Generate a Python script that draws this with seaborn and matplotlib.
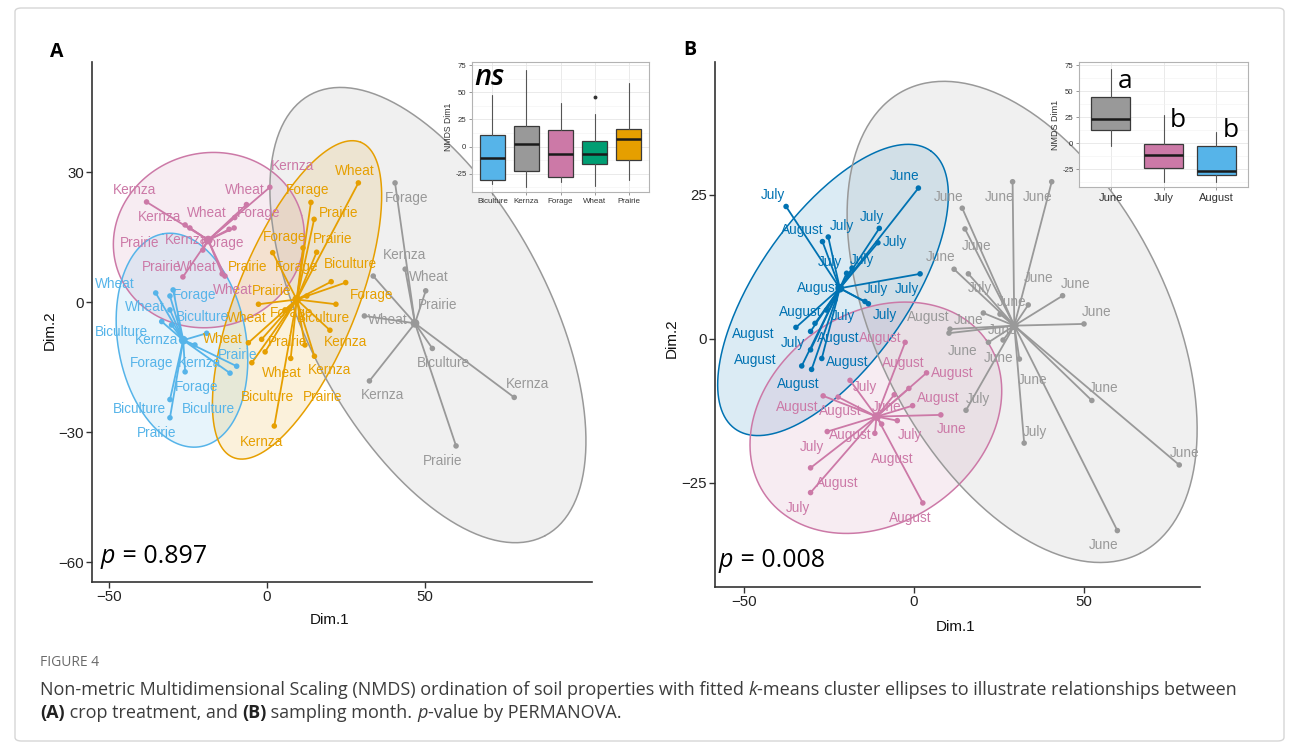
import numpy as np
import pandas as pd
import matplotlib
matplotlib.use("Agg")
import matplotlib.pyplot as plt
from matplotlib.collections import LineCollection
from matplotlib.patches import FancyBboxPatch
import seaborn as sns

# ---------------------------------------------------------------- data
# (A) NMDS site scores, k-means cluster (0-3) and crop treatment
a_dim1 = [-38.1, -25.9, 0.9, -6.5, -10.2, -12.0, -10.4, -24.4, -26.6, -20.3, -14.2, -13.3,
          -35.2, -30.7, -33.3, -30.2, -30.7, -29.7, -22.8, -19.1, -9.6, -11.7, -30.7, -25.9, -30.7,
          28.9, 13.9, 14.9, 15.7, 1.8, 11.4, -2.7, 20.3, 24.9, 21.8, 12.6, 5.7, -1.7, -5.9, -0.6,
          19.9, 7.5, 15.0, -4.8, 12.0, 2.3,
          40.5, 33.6, 43.7, 50.2, 30.8, 52.3, 32.4, 78.2, 59.8]
a_dim2 = [23.1, 17.8, 26.5, 22.5, 19.5, 16.8, 17.1, 17.1, 5.8, 12.0, 6.5, 6.0,
          2.1, -1.8, -4.5, -5.3, 1.4, 2.8, -9.9, -7.2, -14.8, -16.4, -22.5, -16.1, -26.7,
          27.5, 23.0, 19.1, 11.5, 11.4, 12.5, -0.5, 4.7, 4.5, -0.5, 1.4, -1.8, -8.6, -9.4, -11.5,
          -6.5, -13.0, -12.5, -14.0, -9.9, -28.6,
          27.5, 6.0, 7.6, 2.6, -3.2, -10.7, -18.2, -22.0, -33.2]
a_cluster = [0, 0, 0, 0, 0, 0, 0, 0, 0, 0, 0, 0,
             1, 1, 1, 1, 1, 1, 1, 1, 1, 1, 1, 1, 1,
             2, 2, 2, 2, 2, 2, 2, 2, 2, 2, 2, 2, 2, 2, 2, 2, 2, 2, 2, 2, 2,
             3, 3, 3, 3, 3, 3, 3, 3, 3]
a_crop = ["Kernza", "Kernza", "Kernza", "Wheat", "Forage", "Wheat", "Forage", "Kernza", "Prairie",
          "Prairie", "Wheat", "Wheat",
          "Wheat", "Wheat", "Biculture", "Kernza", "Forage", "Biculture", "Forage", "Kernza", "Prairie",
          "Forage", "Biculture", "Biculture", "Prairie",
          "Wheat", "Forage", "Prairie", "Prairie", "Forage", "Forage", "Prairie", "Biculture", "Forage",
          "Biculture", "Prairie", "Forage", "Wheat", "Wheat", "Prairie", "Kernza", "Wheat", "Kernza",
          "Biculture", "Prairie", "Kernza",
          "Forage", "Kernza", "Wheat", "Prairie", "Wheat", "Biculture", "Kernza", "Kernza", "Prairie"]
# repelled label anchors (data units)
a_lab_x = [-41.8, -33.9, 8.2, -7.0, -2.8, -19.0, -13.9, -25.3, -40.2, -33.2, -22.2, -10.8,
           -48.1, -38.6, -45.9, -34.8, -22.8, -20.3, -36.4, -21.2, -9.2, -22.2, -40.2, -18.4, -34.8,
           27.8, 13.0, 22.5, 20.9, 5.7, 9.5, -6.0, 26.3, 33.2, 17.7, 1.6, 7.9, -6.3, -13.9, 6.6,
           24.7, 4.7, 19.9, 0.0, 17.7, -1.6,
           44.3, 43.4, 51.3, 54.1, 38.3, 55.7, 36.4, 82.3, 55.7]
a_lab_y = [25.8, 19.6, 31.4, 25.8, 20.5, 20.5, 13.6, 14.3, 13.6, 8.1, 8.1, 2.8,
           4.2, -1.2, -6.9, -8.8, 1.6, -3.5, -14.1, -14.1, -12.2, -19.6, -24.7, -24.7, -30.2,
           30.2, 25.8, 20.5, 14.5, 15.0, 8.1, 8.1, 8.8, 1.6, -3.7, 2.5, -2.5, -3.7, -8.5, -9.2,
           -9.2, -16.4, -15.7, -21.9, -21.9, -32.3,
           24.0, 10.8, 5.8, -0.7, -4.2, -14.1, -21.5, -18.9, -36.7]
a_centre_x = [-18.6, -26.5, 9.4, 46.8]
a_centre_y = [14.3, -8.8, 0.6, -4.9]
# cluster ellipses: centre and two conjugate semi-diameters (data units)
a_ell_cx = [-18.4, -26.9, 9.5, 50.9]
a_ell_cy = [14.3, -8.8, 0.5, -3.0]
a_ell_u = [(29.35, 5.74), (-5.95, 24.55), (20.17, 36.37), (37.1, -50.9)]
a_ell_v = [(-7.13, 19.4), (-19.95, -2.57), (-17.6, 5.19), (33.5, 13.0)]
a_colors = {0: "#CC79A7", 1: "#56B4E9", 2: "#E69F00", 3: "#999999"}

# (B) NMDS site scores, k-means cluster (0-2) and sampling month
b_dim1 = [-37.6, 1.3, -10.2, -10.6, -26.9, -25.2, -19.8, -18.2, 1.8, -14.4, -23.2, -13.4, -25.7,
          -29.1, -34.7, -30.4, -30.4, -27.1, -33.0, -30.1,
          -2.6, -1.5, 3.7, -0.4, 7.9, -5.8, -18.8, -26.7, -22.3, -4.9, -9.5, -11.5, -25.5, -30.4,
          -30.4, 2.6,
          29.0, 40.5, 14.2, 15.0, 11.8, 16.0, 33.6, 43.7, 25.3, 20.4, 50.0, 10.3, 10.6, 21.9, 26.2,
          31.0, 15.3, 52.3, 32.4, 78.0, 59.8]
b_dim2 = [23.0, 26.2, 19.2, 16.7, 16.9, 17.7, 11.4, 12.3, 11.3, 6.5, 6.8, 6.1, 5.0,
          2.7, 2.0, 1.3, -1.9, -3.4, -4.7, -5.3,
          -0.6, -8.6, -5.9, -11.6, -13.2, -9.7, -7.2, -9.9, -10.1, -14.2, -14.8, -16.4, -16.1, -22.4,
          -26.7, -28.5,
          27.3, 27.3, 22.7, 19.1, 12.1, 11.3, 5.9, 7.5, 4.3, 4.5, 2.6, 1.0, 1.7, -0.6, -0.2,
          -3.5, -12.4, -10.7, -18.1, -21.9, -33.3]
b_cluster = [0, 0, 0, 0, 0, 0, 0, 0, 0, 0, 0, 0, 0, 0, 0, 0, 0, 0, 0, 0,
             1, 1, 1, 1, 1, 1, 1, 1, 1, 1, 1, 1, 1, 1, 1, 1,
             2, 2, 2, 2, 2, 2, 2, 2, 2, 2, 2, 2, 2, 2, 2, 2, 2, 2, 2, 2, 2]
b_month = ["July", "June", "July", "July", "August", "July", "July", "July", "July", "July", "July",
           "July", "August", "August", "August", "July", "August", "August", "August", "August",
           "August", "August", "August", "August", "June", "June", "July", "August", "August", "July",
           "August", "August", "July", "August", "July", "August",
           "June", "June", "June", "June", "June", "July", "June", "June", "June", "June", "June",
           "August", "June", "June", "June", "June", "July", "June", "July", "June", "June"]
b_lab_x = [-41.5, -2.6, -12.4, -5.6, -32.9, -21.2, -24.7, -15.3, -2.1, -11.2, -20.9, -8.5, -28.2,
           -33.5, -47.4, -35.6, -22.4, -19.7, -46.8, -34.1,
           -10.0, -3.2, 11.2, 7.1, 11.2, -7.9, -14.4, -34.4, -21.8, -1.2, -6.5, -18.8, -30.0, -22.6,
           -34.1, -1.2,
           25.3, 36.5, 10.3, 18.5, 7.9, 19.4, 36.8, 47.4, 28.8, 16.2, 53.8, 4.1, 26.2, 14.4, 25.0,
           35.0, 18.8, 55.9, 35.6, 79.7, 55.9]
b_lab_y = [25.0, 28.3, 21.2, 16.8, 18.9, 19.6, 13.4, 13.7, 8.7, 8.7, 4.0, 4.2, 8.9,
           4.7, 0.9, -0.7, 0.2, -4.0, -3.6, -7.8,
           0.2, -4.2, -5.9, -10.2, -15.6, -11.8, -8.3, -11.8, -12.5, -16.7, -20.8, -16.7, -18.8, -25.0,
           -29.3, -31.1,
           24.7, 24.7, 24.7, 16.1, 14.2, 8.9, 10.6, 9.5, 6.4, 3.3, 4.7, 3.8, 1.6, -2.1, -3.3,
           -7.1, -10.4, -8.5, -16.1, -19.8, -35.8]
b_centre_x = [-21.8, -11.0, 29.5]
b_centre_y = [8.8, -13.5, 2.3]
b_ell_cx = [-23.8, -11.2, 31.8]
b_ell_cy = [8.5, -13.7, 2.95]
b_ell_u = [(28.7, 24.17), (32.5, 13.45), (34.7, -40.2)]
b_ell_v = [(-18.07, 7.47), (-17.7, 14.93), (38.0, 11.43)]
b_colors = {0: "#0072B2", 1: "#CC79A7", 2: "#999999"}

# inset box plots: NMDS Dim1 by crop (A) and by month (B)
ins_a_groups = ["Biculture", "Kernza", "Forage", "Wheat", "Prairie"]
ins_a_q1 = [-31, -23, -28, -16, -12]
ins_a_med = [-11, 2, -7, -7, 7]
ins_a_q3 = [11, 19, 15, 5, 16]
ins_a_lo = [-35, -37, -33, -36, -31]
ins_a_hi = [48, 71, 40, 30, 59]
ins_a_out = [[], [], [], [46], []]
ins_a_colors = ["#56B4E9", "#999999", "#CC79A7", "#009E73", "#E69F00"]

ins_b_groups = ["June", "July", "August"]
ins_b_q1 = [13, -24, -30]
ins_b_med = [23, -11, -27]
ins_b_q3 = [44, -1, -3]
ins_b_lo = [-3, -37, -37]
ins_b_hi = [71, 27, 11]
ins_b_out = [[], [], []]
ins_b_colors = ["#999999", "#CC79A7", "#56B4E9"]
ins_b_letters = ["a", "b", "b"]
ins_b_letter_y = [58.8, 22.3, 11.8]

ins_yticks = [-25, 0, 25, 50, 75]
ins_yticklabels = ["-25", "0", "25", "50", "75"]

p_values = ["0.897", "0.008"]

# ---------------------------------------------------------------- style
sns.set_theme(style="ticks")
LABEL_FONT = ["Liberation Sans", "DejaVu Sans"]
SANS = ["Open Sans", "DejaVu Sans"]
plt.rcParams["font.family"] = LABEL_FONT

W, H = 1292, 749
fig = plt.figure(figsize=(W / 100, H / 100), dpi=100)
fig.patch.set_facecolor("white")


def rect(x0, y0, x1, y1):
    return [x0 / W, 1 - y1 / H, (x1 - x0) / W, (y1 - y0) / H]


def draw_ordination(ax, dim1, dim2, cluster, labels, lab_x, lab_y,
                    cen_x, cen_y, ecx, ecy, eu, ev, palette):
    df = pd.DataFrame({"Dim.1": dim1, "Dim.2": dim2, "cluster": cluster,
                       "label": labels, "lx": lab_x, "ly": lab_y})
    t = np.linspace(0, 2 * np.pi, 300)
    for k in range(len(ecx)):
        col = palette[k]
        ex = ecx[k] + eu[k][0] * np.cos(t) + ev[k][0] * np.sin(t)
        ey = ecy[k] + eu[k][1] * np.cos(t) + ev[k][1] * np.sin(t)
        ax.fill(ex, ey, color=col, alpha=0.14, lw=0, zorder=1)
        ax.plot(ex, ey, color=col, lw=1.1, zorder=2)
    segs = [[(cen_x[c], cen_y[c]), (x, y)] for x, y, c in zip(dim1, dim2, cluster)]
    ax.add_collection(LineCollection(segs, colors=[palette[c] for c in cluster],
                                     linewidths=1.3, zorder=3))
    sns.scatterplot(data=df, x="Dim.1", y="Dim.2", hue="cluster", palette=palette,
                    s=16, linewidth=0, legend=False, ax=ax, zorder=4)
    cen = pd.DataFrame({"x": cen_x, "y": cen_y, "cluster": list(range(len(cen_x)))})
    sns.scatterplot(data=cen, x="x", y="y", hue="cluster", palette=palette,
                    s=40, linewidth=0, legend=False, ax=ax, zorder=4)
    for _, r in df.iterrows():
        ax.text(r.lx, r.ly, r.label, color=palette[r.cluster], fontsize=9.8,
                ha="center", va="center", zorder=5, clip_on=False)


def style_main(ax, xlim, ylim, xticks, yticks, xlab_pos, ylab_pos):
    ax.set_xlim(*xlim)
    ax.set_ylim(*ylim)
    ax.set_xticks(xticks)
    ax.set_yticks(yticks)
    sns.despine(ax=ax)
    for s in ("left", "bottom"):
        ax.spines[s].set_color("#333333")
        ax.spines[s].set_linewidth(1.2)
    ax.tick_params(direction="out", length=4, width=1, color="#333333",
                   labelsize=10.8, labelcolor="#222222", pad=2)
    ax.set_xlabel("Dim.1", fontsize=11, color="#111111")
    ax.set_ylabel("Dim.2", fontsize=11, color="#111111")
    ax.xaxis.label.set_va("center")
    ax.yaxis.label.set_va("center")
    ax.xaxis.set_label_coords(*xlab_pos)
    ax.yaxis.set_label_coords(*ylab_pos)
    ax.set_facecolor("white")


def draw_inset(ax, groups, q1, med, q3, lo, hi, out, colors, xfs, yfs):
    stats = [dict(label=g, q1=a, med=m, q3=b, whislo=l, whishi=h, fliers=f)
             for g, a, m, b, l, h, f in zip(groups, q1, med, q3, lo, hi, out)]
    ax.set_axisbelow(True)
    bp = ax.bxp(stats, positions=list(range(len(groups))), widths=0.75,
                patch_artist=True, showcaps=False,
                boxprops=dict(edgecolor="#3a3a3a", linewidth=0.9),
                medianprops=dict(color="#1a1a1a", linewidth=1.8),
                whiskerprops=dict(color="#555555", linewidth=0.8),
                flierprops=dict(marker="o", markersize=2.8, markerfacecolor="#333333",
                                markeredgecolor="none"))
    for patch, c in zip(bp["boxes"], colors):
        patch.set_facecolor(c)
    ax.set_xlim(-0.6, len(groups) - 0.4)
    ax.set_ylim(-42, 78)
    ax.set_yticks(ins_yticks)
    ax.set_yticklabels(ins_yticklabels)
    ax.set_yticks([-37.5, -12.5, 12.5, 37.5, 62.5], minor=True)
    ax.set_xticks(list(range(len(groups))))
    ax.set_xticklabels(groups)
    ax.grid(True, which="major", color="#e6e6e6", lw=0.6)
    ax.grid(True, which="minor", axis="y", color="#f2f2f2", lw=0.4)
    ax.tick_params(which="minor", length=0)
    ax.tick_params(which="major", length=2.5, width=0.6, color="#888888", pad=1.5)
    ax.tick_params(axis="x", labelsize=xfs, labelcolor="#333333")
    ax.tick_params(axis="y", labelsize=yfs, labelcolor="#333333")
    for s in ax.spines.values():
        s.set_visible(True)
        s.set_color("#b3b3b3")
        s.set_linewidth(0.8)
    ax.set_facecolor("white")


# ---------------------------------------------------------------- panels
axA = fig.add_axes(rect(92.5, 62, 592, 582))
draw_ordination(axA, a_dim1, a_dim2, a_cluster, a_crop, a_lab_x, a_lab_y,
                a_centre_x, a_centre_y, a_ell_cx, a_ell_cy, a_ell_u, a_ell_v, a_colors)
style_main(axA, (-55.2, 102.8), (-64.6, 55.4), [-50, 0, 50], [-60, -30, 0, 30],
           (0.475, -0.073), (-0.085, 0.485))

axB = fig.add_axes(rect(715, 62, 1200, 587))
draw_ordination(axB, b_dim1, b_dim2, b_cluster, b_month, b_lab_x, b_lab_y,
                b_centre_x, b_centre_y, b_ell_cx, b_ell_cy, b_ell_u, b_ell_v, b_colors)
style_main(axB, (-58.5, 84.1), (-43.1, 48.1), [-50, 0, 50], [-25, 0, 25],
           (0.495, -0.076), (-0.089, 0.474))

insA = fig.add_axes(rect(472, 62, 649, 192))
draw_inset(insA, ins_a_groups, ins_a_q1, ins_a_med, ins_a_q3, ins_a_lo, ins_a_hi,
           ins_a_out, ins_a_colors, 5.8, 5.6)
insA.set_ylabel("NMDS Dim1", fontsize=6.2, color="#333333")
insA.yaxis.label.set_va("center")
insA.yaxis.set_label_coords(-0.13, 0.5)
insA.text(0.015, 0.88, "ns", transform=insA.transAxes, fontsize=21, style="italic",
          weight="semibold", family=SANS, ha="left", va="center", color="black")

insB = fig.add_axes(rect(1079, 62, 1248, 187))
draw_inset(insB, ins_b_groups, ins_b_q1, ins_b_med, ins_b_q3, ins_b_lo, ins_b_hi,
           ins_b_out, ins_b_colors, 8, 5.6)
insB.set_ylabel("NMDS Dim1", fontsize=6.5, color="#333333")
insB.yaxis.label.set_va("center")
insB.yaxis.set_label_coords(-0.142, 0.5)
for i, (letter, ly) in enumerate(zip(ins_b_letters, ins_b_letter_y)):
    insB.text(i + 0.27, ly, letter, fontsize=19, family=SANS, ha="center", va="center",
              color="black")

# ---------------------------------------------------------------- text
renderer = fig.canvas.get_renderer()


def run_width(s, size, style, weight):
    def w(txt):
        t = fig.text(0, 0, txt, fontsize=size, family=SANS, style=style, weight=weight)
        bw = t.get_window_extent(renderer).width
        t.remove()
        return bw
    return w("|" + s + "|") - w("||")


def text_runs(x_px, base_px, runs, size, color):
    x = x_px
    for s, style, weight, col in runs:
        fig.text(x / W, 1 - base_px / H, s, fontsize=size, family=SANS, style=style,
                 weight=weight, color=col or color, ha="left", va="baseline")
        x += run_width(s, size, style, weight)


text_runs(101, 563, [("p", "italic", "normal", None), (" = " + p_values[0], "normal", "normal", None)],
          18, "black")
text_runs(719, 567, [("p", "italic", "normal", None), (" = " + p_values[1], "normal", "normal", None)],
          18, "black")

fig.text(50 / W, 1 - 57 / H, "A", fontsize=14, weight="bold", family=SANS, color="black",
         ha="left", va="baseline")
fig.text(683 / W, 1 - 55 / H, "B", fontsize=14, weight="bold", family=SANS, color="black",
         ha="left", va="baseline")

cap_col = "#3c3c3c"
fig.text(40 / W, 1 - 666 / H, "FIGURE 4", fontsize=10, family=SANS, color="#6a6a6a",
         ha="left", va="baseline")
text_runs(40, 695, [("Non-metric Multidimensional Scaling (NMDS) ordination of soil properties with fitted ",
                     "normal", "normal", None),
                    ("k", "italic", "normal", None),
                    ("-means cluster ellipses to illustrate relationships between", "normal", "normal", None)],
          13, cap_col)
text_runs(40, 718, [("(A)", "normal", "bold", "#222222"),
                    (" crop treatment, and ", "normal", "normal", None),
                    ("(B)", "normal", "bold", "#222222"),
                    (" sampling month. ", "normal", "normal", None),
                    ("p", "italic", "normal", None),
                    ("-value by PERMANOVA.", "normal", "normal", None)],
          13, cap_col)

border = FancyBboxPatch((15 / W, 1 - 741 / H), 1269 / W, 733 / H,
                        boxstyle="round,pad=0,rounding_size=0.005", transform=fig.transFigure,
                        fill=False, edgecolor="#d6d6d6", linewidth=1.0)
fig.patches.append(border)

fig.savefig("out.png", dpi=100, facecolor="white")
